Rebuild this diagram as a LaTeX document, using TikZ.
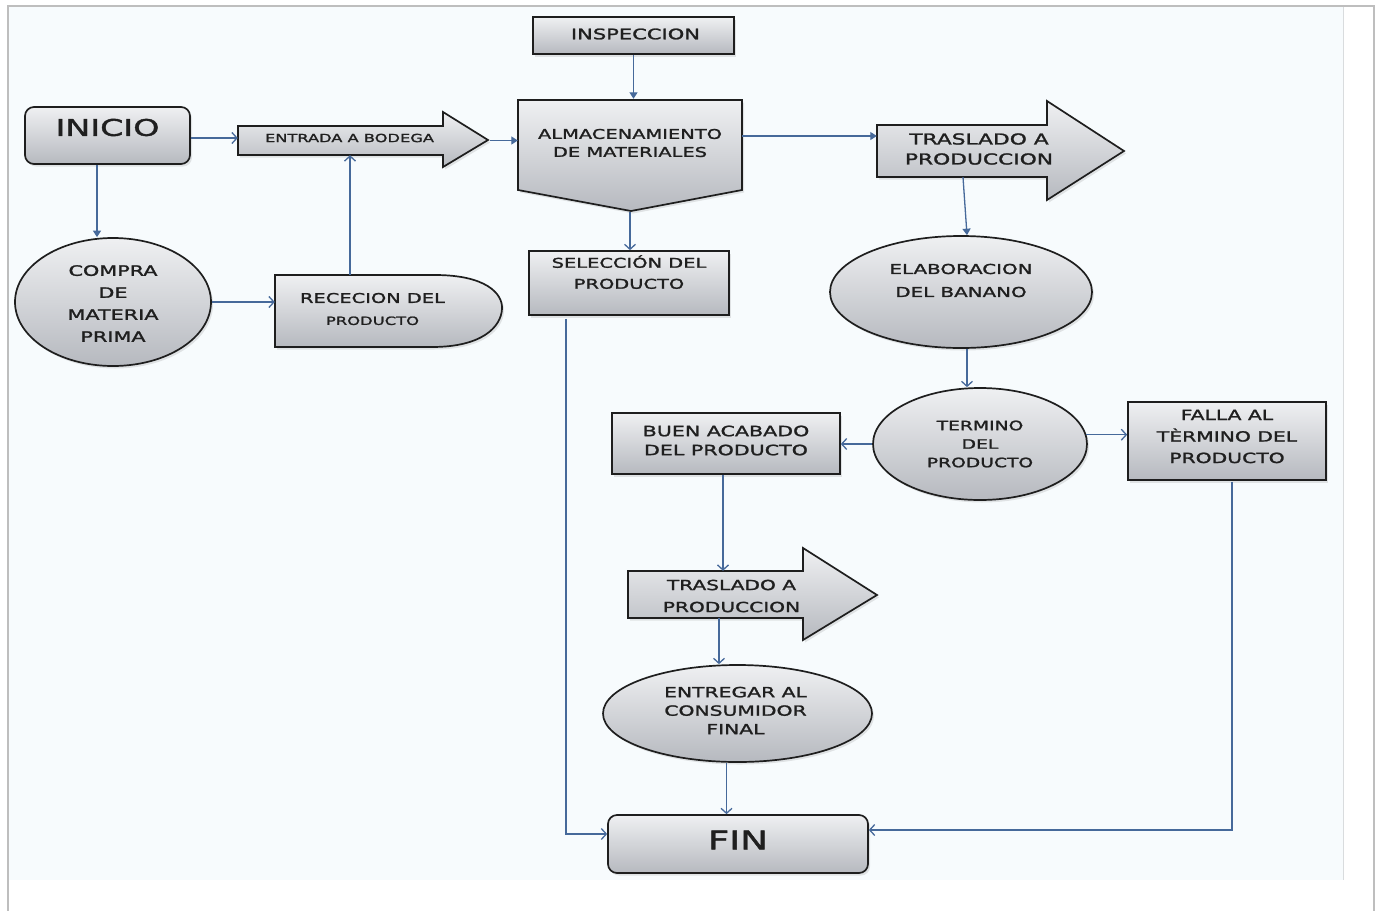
\documentclass[tikz,border=0pt]{standalone}
\usepackage{fontspec}
\newfontfamily\lbl[FakeStretch=1.45,FakeBold=1.6]{DejaVu Sans}
\newcommand\txtsize[2]{\fontsize{#1}{#2}\selectfont}
\usetikzlibrary{arrows.meta,shapes.geometric,shadows}
\pgfdeclarelayer{back}
\pgfdeclarelayer{shapes}
\pgfsetlayers{back,shapes,main}
\definecolor{pagebg}{HTML}{F7FBFD}
\definecolor{framegray}{HTML}{BEBEBE}
\definecolor{seamgray}{HTML}{D9DCDE}
\definecolor{link}{HTML}{46699A}
\definecolor{ink}{HTML}{1F1F1F}
\definecolor{outline}{HTML}{1E1E1E}
\definecolor{shadetop}{HTML}{EFF0F2}
\definecolor{shadebot}{HTML}{B6B9BF}
\tikzset{
  lit/.style={font=\lbl, text=ink, align=center, inner sep=0pt},
  fillshape/.style={draw=outline, line width=1.7pt, top color=shadetop, bottom color=shadebot,
    drop shadow={shadow xshift=2pt, shadow yshift=-2.5pt, opacity=0.2}},
  procbox/.style={fillshape, rectangle, inner sep=0pt},
  termbox/.style={fillshape, rectangle, rounded corners=9pt, inner sep=0pt},
  oval/.style={fillshape, ellipse, inner sep=0pt},
  holder/.style={lit, rectangle},
  flow/.style={draw=link, line width=1.3pt},
  openhead/.style={flow, -{Straight Barb[length=5pt,width=11pt]}},
  fillhead/.style={flow, -{Triangle[length=6.5pt,width=8pt]}},
}
\begin{document}
\begin{tikzpicture}[x=1pt,y=-1pt]
\useasboundingbox (0,0) rectangle (1381,911);

% page and frame
\begin{pgfonlayer}{back}
  \fill[white] (0,0) rectangle (1381,911);
  \fill[pagebg] (9,7) rectangle (1343,880);
  \draw[seamgray,line width=1pt] (1343,7) -- (1343,880);
  \fill[framegray] (7,5) rectangle (1375,7);
  \fill[framegray] (7,5) rectangle (9,911);
  \fill[framegray] (1373,5) rectangle (1375,911);
\end{pgfonlayer}

% outlines of the block arrows, the storage pentagon and the delay shape
\begin{pgfonlayer}{shapes}
  \path[fillshape] (238,126) -- (443,126) -- (443,112) -- (488,140) -- (443,167) -- (443,155) -- (238,155) -- cycle;
  \path[fillshape] (518,100) -- (742,100) -- (742,190) -- (631,211) -- (518,190) -- cycle;
  \path[fillshape] (877,125) -- (1047,125) -- (1047,101) -- (1124,151) -- (1047,200) -- (1047,177) -- (877,177) -- cycle;
  \path[fillshape] (628,571) -- (803,571) -- (803,548) -- (877,595) -- (803,640) -- (803,618) -- (628,618) -- cycle;
  \path[fillshape] (275,275) -- (435,275) .. controls (485,275) and (503,293) .. (502,309)
        .. controls (501,327) and (482,347) .. (432,347) -- (275,347) -- cycle;
\end{pgfonlayer}

% nodes
\node[termbox, minimum width=165pt, minimum height=57pt] (inicio) at (107.5,135.5) {};
\node[lit, font={\lbl\txtsize{23}{28}}] (inicio-t) at ([yshift=8pt]inicio.center) {INICIO};

\node[holder, minimum width=205pt, minimum height=29pt] (entrada) at (340.5,140.5) {};
\node[lit, font={\lbl\txtsize{11.2}{14}}] (entrada-t) at ([xshift=9pt,yshift=2.5pt]entrada.center) {ENTRADA A BODEGA};

\node[oval, minimum width=196pt, minimum height=128pt] (compra) at (113,302) {};
\node[lit, font={\lbl\txtsize{14.3}{22}}] (compra-t) at ([yshift=-1.5pt]compra.center) {COMPRA\\DE\\MATERIA\\PRIMA};

\node[holder, minimum width=227pt, minimum height=72pt] (rececion) at (388.5,311) {};
\node[lit, font={\lbl\txtsize{13.4}{22}}] (rececion-t) at ([xshift=-16pt,yshift=2pt]rececion.center) {RECECION DEL\\\txtsize{11.3}{22}PRODUCTO};

\node[procbox, minimum width=201pt, minimum height=37pt] (inspeccion) at (633.5,35.5) {};
\node[lit, font={\lbl\txtsize{14.5}{18}}] (inspeccion-t) at ([xshift=2pt,yshift=1.5pt]inspeccion.center) {INSPECCION};

\node[holder, minimum width=224pt, minimum height=90pt] (almacen) at (630,145) {};
\node[lit, font={\lbl\txtsize{13.4}{18}}] (almacen-t) at ([yshift=2pt]almacen.center) {ALMACENAMIENTO\\DE MATERIALES};

\node[procbox, minimum width=200pt, minimum height=64pt] (seleccion) at (629,283) {};
\node[lit, font={\lbl\txtsize{13.4}{21}}] (seleccion-t) at ([yshift=10.9pt]seleccion.center) {SELECCIÓN DEL\\PRODUCTO};

\node[holder, minimum width=170pt, minimum height=52pt] (traslado) at (962,151) {};
\node[lit, font={\lbl\txtsize{15}{20}}] (traslado-t) at ([xshift=17pt,yshift=2pt]traslado.center) {TRASLADO A\\PRODUCCION};

\node[oval, minimum width=262pt, minimum height=112pt] (elab) at (961,292) {};
\node[lit, font={\lbl\txtsize{13.7}{23}}] (elab-t) at ([yshift=11.5pt]elab.center) {ELABORACION\\DEL BANANO};

\node[oval, minimum width=214pt, minimum height=112pt] (termino) at (980,444) {};
\node[lit, font={\lbl\txtsize{12.9}{18.5}}] (termino-t) at (termino.center) {TERMINO\\DEL\\PRODUCTO};

\node[procbox, minimum width=198pt, minimum height=78pt] (falla) at (1227,441) {};
\node[lit, font={\lbl\txtsize{14}{21.5}}] (falla-t) at ([yshift=4.5pt]falla.center) {FALLA AL\\TÈRMINO DEL\\PRODUCTO};

\node[procbox, minimum width=228pt, minimum height=61pt] (buen) at (726,443.5) {};
\node[lit, font={\lbl\txtsize{14.2}{19}}] (buen-t) at ([yshift=3pt]buen.center) {BUEN ACABADO\\DEL PRODUCTO};

\node[holder, minimum width=175pt, minimum height=47pt] (traslado2) at (715.5,594.5) {};
\node[lit, font={\lbl\txtsize{13.9}{22}}] (traslado2-t) at ([xshift=16pt,yshift=-1.5pt]traslado2.center) {TRASLADO A\\PRODUCCION};

\node[oval, minimum width=269pt, minimum height=97pt] (entregar) at (737.5,713.5) {};
\node[lit, font={\lbl\txtsize{14}{18.5}}] (entregar-t) at ([xshift=-2pt,yshift=3pt]entregar.center) {ENTREGAR AL\\CONSUMIDOR\\FINAL};

\node[termbox, minimum width=260pt, minimum height=58pt] (fin) at (738,844) {};
\node[lit, font={\lbl\txtsize{25.6}{30}}] (fin-t) at ([yshift=4pt]fin.center) {FIN};

% connectors
\draw[openhead] ([yshift=-2.5pt]inicio.east) -- ([yshift=-2.5pt]inicio.east -| entrada.west);
\draw[fillhead] ([xshift=-10.5pt]inicio.south) -- ([xshift=-10.5pt]inicio.south |- compra.north);
\draw[openhead] (compra.east) -- (compra.east -| rececion.west);
\draw[openhead] ([xshift=-38.5pt]rececion.north) -- ([xshift=-38.5pt]rececion.north |- entrada.south);
\draw[fillhead] ([xshift=47pt]entrada.east) -- (entrada.east -| almacen.west);
\draw[fillhead, shorten >=1pt] (inspeccion.south) -- (inspeccion.south |- almacen.north);
\draw[fillhead] ([yshift=9pt]almacen.east) -- ([yshift=9pt]almacen.east -| traslado.west);
\draw[openhead] ([yshift=-22pt]almacen.south) -- (almacen.south |- seleccion.north);
\draw[fillhead] ([xshift=1pt]traslado.south) -- ([xshift=6pt]elab.north);
\draw[openhead] ([xshift=6pt]elab.south) -- ([xshift=6pt]elab.south |- termino.north);
\draw[openhead] (termino.west) -- (termino.west -| buen.east);
\draw[openhead] (termino.5) -- (termino.5 -| falla.west);
\draw[openhead] ([xshift=-3pt]buen.south) -- ([xshift=-3pt]buen.south |- traslado2.north);
\draw[openhead] ([xshift=3.5pt]traslado2.south) -- ([xshift=3.5pt]traslado2.south |- entregar.north);
\draw[openhead] ([xshift=-11pt]entregar.south) -- ([xshift=-11pt]entregar.south |- fin.north);
\draw[openhead, shorten <=3pt] ([xshift=-63pt]seleccion.south) |- ([yshift=10pt]fin.west);
\draw[openhead, shorten <=1pt] ([xshift=5pt]falla.south) |- ([yshift=14pt]fin.east);
\end{tikzpicture}
\end{document}
